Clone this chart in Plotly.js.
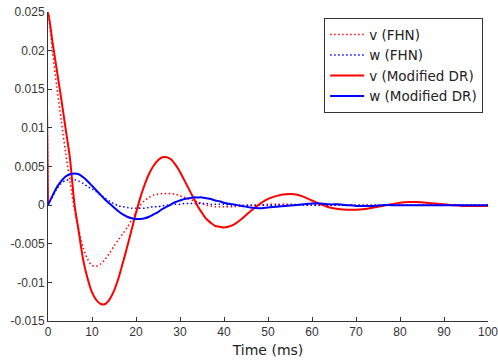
<!DOCTYPE html>
<html>
<head>
<meta charset="utf-8">
<script src="https://cdn.plot.ly/plotly-3.0.1.min.js"></script>
<style>html,body{margin:0;padding:0;background:#fff;}#chart{width:498px;height:360px;}</style>
</head>
<body>
<div id="chart"></div>
<script>
// time samples (ms); the first point is repeated to draw the initial jump
var time = [0,0,1,2,3,4,5,6,7,8,9,10,11,12,13,14,15,16,17,18,19,20,21,22,23,24,25,26,27,28,29,30,31,32,33,34,35,36,37,38,39,40,
  42,44,46,48,50,52,54,56,58,60,62,64,66,68,70,72,74,76,78,80,82,84,86,88,90,92,94,96,98,100];

var vFHN = [0,0.025,0.0200,0.0153,0.0110,0.0068,0.0030,-0.0005,-0.0032,-0.0055,-0.0070,-0.0078,-0.0079,-0.0076,-0.0070,-0.0062,-0.0053,-0.0045,-0.0037,-0.0029,-0.0019,-0.0009,0.0000,0.0006,0.0010,0.0013,0.0014,0.0015,0.0015,0.0015,0.0014,0.0012,0.0010,0.0008,0.0006,0.0004,0.0002,0.0000,-0.0001,-0.0002,-0.0002,-0.0002,
  -0.0002,-0.0001,0.0000,0.0000,0.0001,0.0001,0.0001,0.0001,0.0000,0.0000,0.0000,0.0000,0.0000,0.0000,0.0000,0.0000,0.0000,0.0000,0.0000,0.0000,0.0000,0.0000,0.0000,0.0000,0.0000,0.0000,0.0000,0.0000,0.0000,0.0000];

var wFHN = [0,0,0.0011,0.0021,0.0028,0.0032,0.0033,0.0033,0.0031,0.0028,0.0024,0.0021,0.0017,0.0013,0.0009,0.0005,0.0002,-0.0001,-0.0002,-0.0003,-0.0004,-0.0004,-0.0004,-0.0004,-0.0003,-0.0002,-0.0002,-0.0001,0.0000,0.0001,0.0001,0.0001,0.0002,0.0002,0.0002,0.0002,0.0002,0.0002,0.0001,0.0001,0.0001,0.0001,
  0.0000,0.0000,0.0000,0.0000,0.0000,0.0000,0.0000,0.0000,0.0000,0.0000,0.0000,0.0000,0.0000,0.0000,0.0000,0.0000,0.0000,0.0000,0.0000,0.0000,0.0000,0.0000,0.0000,0.0000,0.0000,0.0000,0.0000,0.0000,0.0000,0.0000];

var vDR = [0,0.025,0.0212,0.0175,0.0138,0.0099,0.0060,0.0002,-0.0035,-0.0071,-0.0095,-0.0113,-0.0123,-0.0128,-0.0128,-0.0122,-0.0111,-0.0095,-0.0075,-0.0054,-0.0032,-0.0010,0.0010,0.0027,0.0041,0.0051,0.0058,0.0062,0.0062,0.0059,0.0052,0.0043,0.0032,0.0021,0.0010,-0.0001,-0.0010,-0.0018,-0.0023,-0.0027,-0.0028,-0.0029,
  -0.0026,-0.0018,-0.0008,0.0001,0.0008,0.0012,0.0014,0.0014,0.0011,0.0006,0.0001,-0.0003,-0.0005,-0.0006,-0.0006,-0.0005,-0.0003,-0.0001,0.0001,0.0003,0.0004,0.0004,0.0003,0.0002,0.0001,0.0000,-0.0001,-0.0001,-0.0001,-0.0001];

var wDR = [0,0,0.0012,0.0023,0.0031,0.0037,0.0040,0.0041,0.0040,0.0036,0.0031,0.0025,0.0019,0.0013,0.0007,0.0002,-0.0003,-0.0008,-0.0012,-0.0015,-0.0017,-0.0018,-0.0018,-0.0017,-0.0015,-0.0012,-0.0009,-0.0005,-0.0002,0.0001,0.0004,0.0006,0.0008,0.0009,0.0010,0.0010,0.0010,0.0009,0.0008,0.0006,0.0005,0.0003,
  0.0001,-0.0001,-0.0003,-0.0004,-0.0003,-0.0002,-0.0001,0.0000,0.0001,0.0002,0.0002,0.0001,0.0001,0.0000,-0.0001,-0.0001,-0.0001,0.0000,0.0000,0.0000,0.0000,0.0000,0.0000,0.0000,0.0000,0.0000,0.0000,0.0000,0.0000,0.0000];

var seriesNames = ['v (FHN)','w (FHN)','v (Modified DR)','w (Modified DR)'];
var xTickVals = [0,10,20,30,40,50,60,70,80,90,100];
var yTickVals = [0.025,0.02,0.015,0.01,0.005,0,-0.005,-0.01,-0.015];
var yTickText = ['0.025','0.02','0.015','0.01','0.005','0','-0.005','-0.01','-0.015'];

var RED = '#ff0000', BLUE = '#0000ff';
function tr(y, name, color, dash, width) {
  return {x: time, y: y, name: name, type: 'scatter', mode: 'lines',
    line: {color: color, dash: dash, width: width, shape: 'spline', smoothing: 0.8},
    hoverinfo: 'skip'};
}
var DOT = '1.5px,2.5px';
var data = [
  tr(vFHN, seriesNames[0], RED, DOT, 1.5),
  tr(wFHN, seriesNames[1], BLUE, DOT, 1.5),
  tr(vDR, seriesNames[2], RED, 'solid', 2),
  tr(wDR, seriesNames[3], BLUE, 'solid', 2)
];
var tickFamily = '"Liberation Sans", Arial, sans-serif';
var textFamily = '"DejaVu Sans", sans-serif';
var layout = {
  width: 498, height: 360,
  margin: {l: 48, r: 10, t: 12, b: 39, pad: 0},
  paper_bgcolor: '#fff', plot_bgcolor: '#fff',
  font: {family: tickFamily, color: '#222'},
  showlegend: true,
  legend: {x: 0.989, y: 0.98, xanchor: 'right', yanchor: 'top',
    bordercolor: '#333', borderwidth: 1, bgcolor: '#fff', itemwidth: 34,
    font: {family: textFamily, size: 13.5, color: '#222'}, tracegroupgap: 0},
  xaxis: {range: [0, 100], tickvals: xTickVals, ticks: 'inside', ticklen: 4,
    tickcolor: '#333', showline: true, linecolor: '#333', linewidth: 1,
    showgrid: false, zeroline: false, mirror: false, ticklabeloverflow: 'allow',
    tickfont: {size: 12, color: '#333'},
    title: {text: 'Time (ms)', font: {family: textFamily, size: 14, color: '#222'}, standoff: 6}},
  yaxis: {range: [-0.015, 0.025], tickvals: yTickVals, ticktext: yTickText,
    ticks: 'inside', ticklen: 4, tickcolor: '#333', showline: true,
    linecolor: '#333', linewidth: 1, showgrid: false, zeroline: false,
    ticklabeloverflow: 'allow',
    tickfont: {size: 12, color: '#333'}}
};
Plotly.newPlot('chart', data, layout, {staticPlot: true, displayModeBar: false});
</script>
</body>
</html>
